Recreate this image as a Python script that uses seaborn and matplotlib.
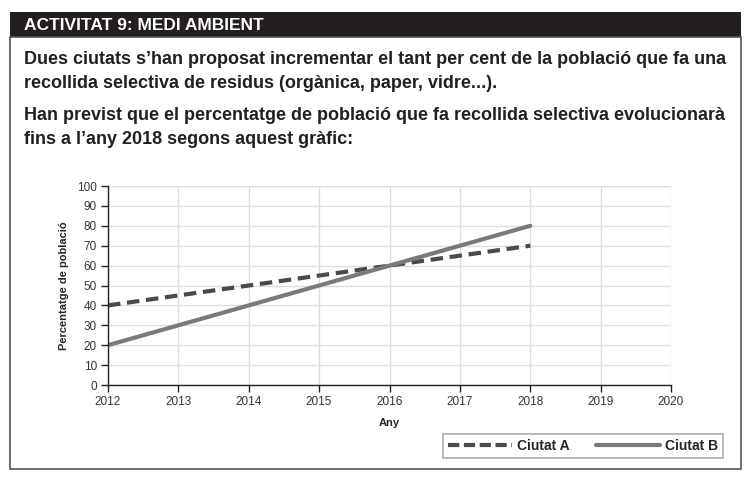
import pandas as pd
import matplotlib.pyplot as plt
import seaborn as sns
from matplotlib.patches import Rectangle
from matplotlib.lines import Line2D

# Data
years = [2012, 2013, 2014, 2015, 2016, 2017, 2018]
ciutat_a = [40, 45, 50, 55, 60, 65, 70]
ciutat_b = [20, 30, 40, 50, 60, 70, 80]
x_ticks = [2012, 2013, 2014, 2015, 2016, 2017, 2018, 2019, 2020]
y_ticks = [0, 10, 20, 30, 40, 50, 60, 70, 80, 90, 100]

df = pd.DataFrame({"Any": years * 2,
                   "Percentatge": ciutat_a + ciutat_b,
                   "Ciutat": ["Ciutat A"] * len(years) + ["Ciutat B"] * len(years)})

sns.set_style("white")
plt.rcParams['font.family'] = ['Liberation Sans', 'DejaVu Sans']

W, H = 754, 483
fig = plt.figure(figsize=(W / 100, H / 100), dpi=100)

def fx(px):
    return px / W

def fy(py):
    return 1 - py / H

# header bar and frame
fig.patches.append(Rectangle((fx(10), fy(37)), fx(731), 25 / H, transform=fig.transFigure,
                             facecolor="#231f20", edgecolor="none"))
fig.patches.append(Rectangle((fx(10), fy(469)), fx(731), 432 / H, transform=fig.transFigure,
                             facecolor="none", edgecolor="#555555", lw=1.2))
fig.text(fx(24), fy(25), "ACTIVITAT 9: MEDI AMBIENT", color="white", fontsize=12.5,
         fontweight="bold", va="center")

body = dict(fontsize=13, fontweight="bold", color="#231f20", va="center")
fig.text(fx(24), fy(60), "Dues ciutats s\u2019han proposat incrementar el tant per cent de la població que fa una", **body)
fig.text(fx(24), fy(84), "recollida selectiva de residus (orgànica, paper, vidre...).", **body)
fig.text(fx(24), fy(116), "Han previst que el percentatge de població que fa recollida selectiva evolucionarà", **body)
fig.text(fx(24), fy(140), "fins a l\u2019any 2018 segons aquest gràfic:", **body)

ax = fig.add_axes([fx(108), fy(385), (671 - 108) / W, (385 - 186) / H])
sns.lineplot(data=df, x="Any", y="Percentatge", hue="Ciutat", style="Ciutat",
             palette={"Ciutat A": "#4a4a4a", "Ciutat B": "#7a7a7a"},
             dashes={"Ciutat A": (3, 1.6), "Ciutat B": ""},
             linewidth=3, legend=False, ax=ax)

ax.set_xlim(2012, 2020)
ax.set_ylim(0, 100)
ax.set_xticks(x_ticks)
ax.set_yticks(y_ticks)
ax.set_xticklabels([str(t) for t in x_ticks])
ax.grid(True, color="#dddddd", lw=1)
ax.set_axisbelow(True)
for s in ["top", "right"]:
    ax.spines[s].set_visible(False)
for s in ["left", "bottom"]:
    ax.spines[s].set_color("#231f20")
    ax.spines[s].set_linewidth(1)
ax.tick_params(axis="both", length=5, width=1, color="#231f20", labelsize=8.5,
               labelcolor="#333333", pad=3, bottom=True, left=True)
ax.set_xlabel("Any", fontsize=8, fontweight="bold", labelpad=7)
ax.set_ylabel("Percentatge de població", fontsize=8, fontweight="bold", labelpad=6)

handles = [Line2D([], [], color="#4a4a4a", lw=3, dashes=(2.7, 1.1)),
           Line2D([], [], color="#7a7a7a", lw=3)]
leg = fig.legend(handles, ["Ciutat A", "Ciutat B"], ncol=2, loc="center",
                 bbox_to_anchor=(fx(583), fy(446)), frameon=True, fancybox=False,
                 handlelength=4.6, columnspacing=1.9, handletextpad=0.35,
                 borderpad=0.35, borderaxespad=0,
                 prop={"weight": "bold", "size": 10})
leg.get_frame().set_edgecolor("#999999")
leg.get_frame().set_linewidth(1.2)

fig.savefig("out.png", dpi=100)
